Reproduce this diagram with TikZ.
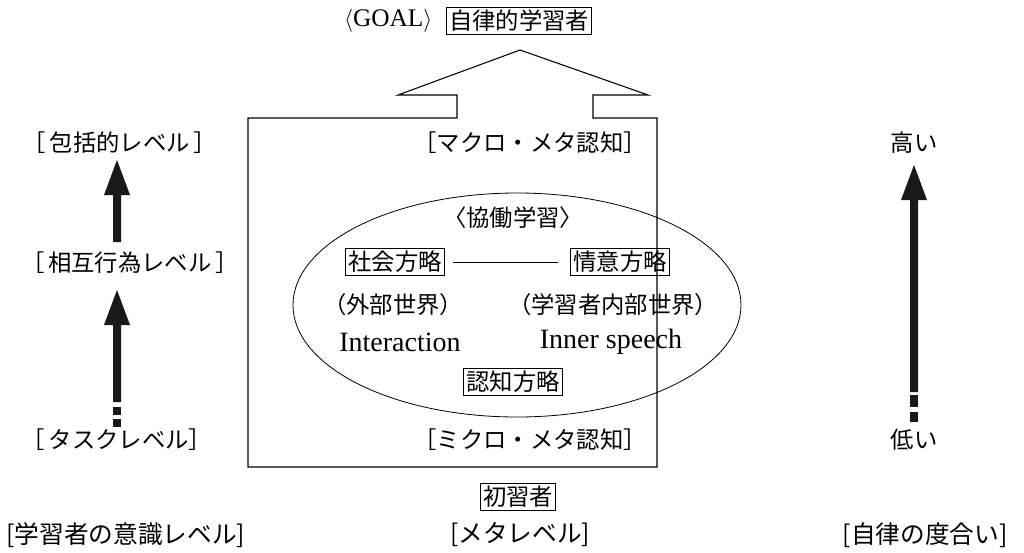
\documentclass[tikz,border=0pt]{standalone}
\usepackage{fontspec}
\setmainfont{Liberation Serif}
\newfontfamily\cjk{Noto Sans CJK JP}
\usetikzlibrary{shapes.geometric}
\begin{document}
\begin{tikzpicture}[x=0.75pt,y=-0.75pt,
  jp/.style={font=\cjk\fontsize{17.5}{20}\selectfont, inner sep=1pt},
  lat/.style={font=\fontsize{21}{24}\selectfont, inner sep=1pt},
  boxed/.style={draw, line width=0.6pt, inner sep=2pt},
  outline/.style={line width=0.8pt},
  blockarrow/.style={fill=black!90, draw=none}]
\useasboundingbox (0,0) rectangle (1024,553);

% Goal
\node[lat, anchor=east, font=\fontsize{19}{22}\selectfont] (goal) at (434,21) {$\langle$GOAL$\rangle$};
\node[jp, boxed] (goalbox) at (519,21) {自律的学習者};

% Frame with up arrow
\draw[outline] (457,118) -- (248,118) -- (248,467) -- (657,467) -- (657,118) -- (593,118)
  -- (593,95) -- (648,95) -- (520,50) -- (398,95) -- (457,95) -- cycle;

\node[jp] (macro) at (530,143) {［マクロ・メタ認知］};
\node[jp] (micro) at (530,440) {［ミクロ・メタ認知］};

% Ellipse
\node[draw, ellipse, line width=0.6pt, inner sep=0pt,
  minimum width=336pt, minimum height=168pt] (ell) at (517,305) {};
\node[jp] (kyodo) at (513,218) {〈協働学習〉};
\node[jp, boxed] (social) at (395,262) {社会方略};
\node[jp, boxed] (affect) at (620,262) {情意方略};
\draw[line width=0.6pt] ([xshift=6pt]social.east) -- ([xshift=-9pt]affect.west);
\node[jp] (outer) at (393,305) {（外部世界）};
\node[jp] (inner) at (613,305) {（学習者内部世界）};
\node[lat] (interaction) at (400,342) {Interaction};
\node[lat] (innersp) at (611,342) {Inner speech};
\node[jp, boxed] (cogn) at (513,382) {認知方略};

% Bottom
\node[jp, boxed] (novice) at (518,497) {初習者};
\node[jp, font=\cjk\fontsize{18.5}{21}\selectfont] (b1) at (126,535) {[学習者の意識レベル]};
\node[jp, font=\cjk\fontsize{18.5}{21}\selectfont] (b2) at (520,535) {[メタレベル]};
\node[jp, font=\cjk\fontsize{18.5}{21}\selectfont] (b3) at (925,535) {[自律の度合い]};

% Left labels
\node[jp] (l1) at (120,143) {［\,包括的レベル\,］};
\node[jp] (l2) at (130,263) {［\,相互行為レベル\,］};
\node[jp] (l3) at (117,440) {［\,タスクレベル］};

% Right labels
\node[jp] (high) at (914,143) {高い};
\node[jp] (low) at (914,440) {低い};

% Left arrows
\fill[blockarrow] (113,242) -- (121,242) -- (121,195) -- (130,195) -- (117,160) -- (104,195) -- (113,195) -- cycle;
\fill[blockarrow] (113,402) -- (121,402) -- (121,325) -- (130,325) -- (117,290) -- (104,325) -- (113,325) -- cycle;
\fill[blockarrow] (113,407) rectangle (121,415);
\fill[blockarrow] (113,419) rectangle (121,427);

% Right arrow
\fill[blockarrow] (910,392) -- (918,392) -- (918,200) -- (927,200) -- (914,165) -- (901,200) -- (910,200) -- cycle;
\fill[blockarrow] (910,395) rectangle (918,407);
\fill[blockarrow] (910,412) rectangle (918,422);
\end{tikzpicture}
\end{document}
